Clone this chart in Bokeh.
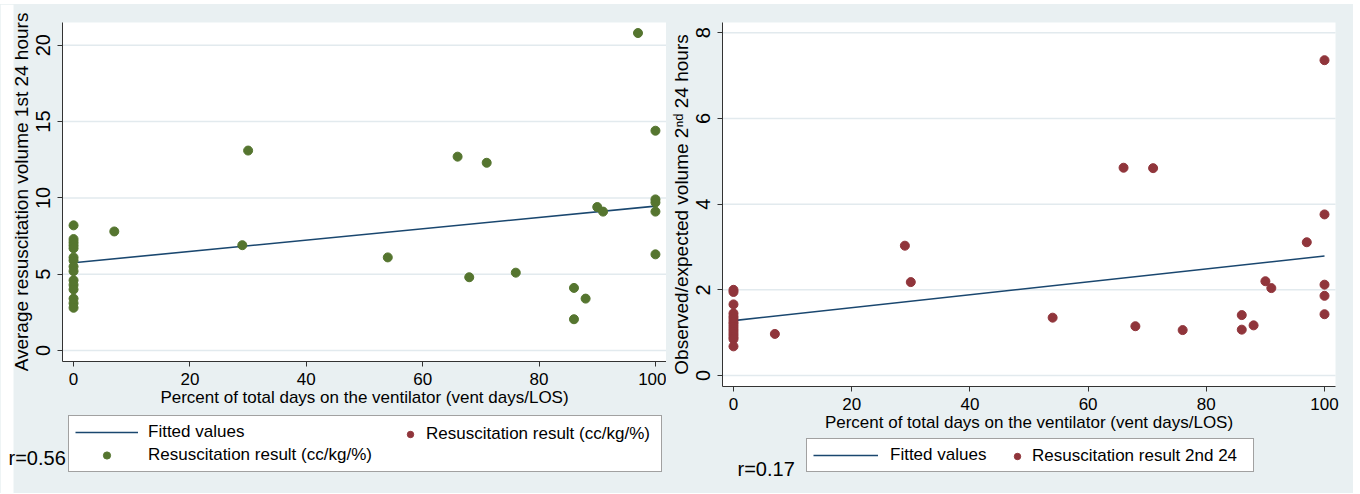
import math
from bokeh.plotting import figure
from bokeh.models import (Legend, LegendItem, Label, Range1d, FixedTicker, Spacer,
                          LinearAxis, BoxAnnotation)
from bokeh.layouts import row, column
from bokeh.embed import file_html
from bokeh.resources import INLINE

# ---------------- data ----------------
# Left panel: percent of days on ventilator vs. average resuscitation volume 1st 24 h
left_x = [0, 0, 0, 0, 0, 0, 0, 0, 0, 0, 0, 0, 0, 0, 0,
          7, 29, 30, 54, 66, 68, 71, 76, 86, 86, 88, 90, 91, 97,
          100, 100, 100, 100, 100]
left_y = [8.2, 7.3, 7.1, 6.9, 6.7, 6.1, 5.9, 5.5, 5.2, 4.6, 4.3, 4.0, 3.4, 3.1, 2.8,
          7.8, 6.9, 13.1, 6.1, 12.7, 4.8, 12.3, 5.1, 4.1, 2.05, 3.4, 9.4, 9.1, 20.8,
          14.4, 9.9, 9.7, 9.1, 6.3]
left_fit_x = [0, 100]
left_fit_y = [5.75, 9.46]

# Right panel: percent of days on ventilator vs. observed/expected volume 2nd 24 h
right_x = [0, 0, 0, 0, 0, 0, 0, 0, 0, 0, 0, 0, 0, 0, 0,
           7, 29, 30, 54, 66, 68, 71, 76, 86, 86, 88, 90, 91, 97,
           100, 100, 100, 100, 100]
right_y = [2.0, 1.95, 1.66, 1.45, 1.38, 1.32, 1.25, 1.2, 1.14, 1.08, 1.02, 0.96, 0.9, 0.85, 0.68,
           0.97, 3.03, 2.18, 1.35, 4.85, 1.15, 4.84, 1.06, 1.41, 1.07, 1.17, 2.2, 2.04, 3.11,
           7.36, 3.76, 2.12, 1.86, 1.43]
right_fit_x = [0, 100]
right_fit_y = [1.28, 2.79]

x_ticks = [0, 20, 40, 60, 80, 100]
left_y_ticks = [0, 5, 10, 15, 20]
right_y_ticks = [0, 2, 4, 6, 8]

x_title = "Percent of total days on the ventilator (vent days/LOS)"
left_y_title = "Average resuscitation volume 1st 24 hours"
right_y_title = "Observed/expected volume 2\u207f\u1d48 24 hours"
label_fit = "Fitted values"
label_res1 = "Resuscitation result (cc/kg/%)"
label_res2 = "Resuscitation result 2nd 24"
r_left = "r=0.56"
r_right = "r=0.17"

# ---------------- style ----------------
BG = "#e9f0f2"
GRID = "#e2eaee"
NAVY = "#1a476f"
GREEN = "#55752f"
MAROON = "#90353b"
AXIS = "#333333"
FONT = "Liberation Sans"


def panel(width, height, box_px, xlim, ylim, yticks, ytitle):
    """box_px = (left, right, top, bottom) of the white plot region in canvas pixels."""
    bl, br, bt, bb = box_px
    sx = (br - bl) / (xlim[1] - xlim[0])
    sy = (bb - bt) / (ylim[1] - ylim[0])
    xr = Range1d(xlim[0] - bl / sx, xlim[1] + (width - br) / sx)
    yr = Range1d(ylim[0] - (height - bb) / sy, ylim[1] + bt / sy)
    p = figure(width=width, height=height, output_backend="svg", toolbar_location=None,
               x_range=xr, y_range=yr, x_axis_type=None, y_axis_type=None,
               min_border=0, min_border_left=0, min_border_right=0,
               min_border_top=0, min_border_bottom=0)
    p.background_fill_color = BG
    p.border_fill_color = BG
    p.outline_line_color = None
    p.grid.visible = False
    # white plot region
    p.add_layout(BoxAnnotation(left=xlim[0], right=xlim[1], bottom=ylim[0], top=ylim[1],
                               fill_color="white", fill_alpha=1.0, line_color=None,
                               level="underlay"))
    # horizontal grid lines at the y ticks, limited to the plot region
    p.segment(x0=[xlim[0] for _ in yticks], x1=[xlim[1] for _ in yticks],
              y0=yticks, y1=yticks, line_color=GRID, line_width=1.5)

    xa = LinearAxis(fixed_location=ylim[0], bounds=tuple(xlim),
                    ticker=FixedTicker(ticks=x_ticks), axis_label=x_title)
    ya = LinearAxis(fixed_location=xlim[0], bounds=tuple(ylim),
                    ticker=FixedTicker(ticks=yticks), axis_label=ytitle)
    for ax in (xa, ya):
        ax.axis_line_color = AXIS
        ax.major_tick_line_color = AXIS
        ax.minor_tick_line_color = None
        ax.major_tick_out = 5
        ax.major_tick_in = 0
        ax.major_label_text_font = FONT
        ax.major_label_text_color = "black"
        ax.axis_label_text_font = FONT
        ax.axis_label_text_font_style = "normal"
        ax.axis_label_text_color = "black"
    xa.major_label_text_font_size = "17px"
    xa.axis_label_text_font_size = "17px"
    xa.major_label_standoff = 6
    xa.axis_label_standoff = 0
    ya.major_label_orientation = "vertical"
    ya.major_label_text_font_size = "20px"
    ya.axis_label_text_font_size = "19px"
    ya.major_label_standoff = 7
    ya.axis_label_standoff = 2
    p.add_layout(xa, "below")
    p.add_layout(ya, "left")
    return p


def make_legend(items, loc, box, glyph_w, label_w, standoff, orient="vertical"):
    kw = dict(items=items, location=loc, orientation=orient,
              glyph_width=glyph_w, glyph_height=18, label_height=18,
              label_standoff=standoff, margin=0,
              label_text_font=FONT, label_text_font_size="17px", label_text_color="black")
    if box:
        kw.update(padding=6, spacing=3, label_width=label_w,
                  border_line_color="#444444", border_line_width=1,
                  background_fill_color="white", background_fill_alpha=1.0)
    else:
        kw.update(padding=0, spacing=0, border_line_color=None,
                  background_fill_alpha=0.0)
    return Legend(**kw)


# ---------------- left panel ----------------
p1 = panel(666, 489, (62, 666, 18, 357), (-1.9, 101.9), (-0.72, 21.49),
           left_y_ticks, left_y_title)
# white page margin at the far left of the picture
p1.add_layout(BoxAnnotation(left=0, right=13, bottom=0, top=489,
                            left_units="screen", right_units="screen",
                            bottom_units="screen", top_units="screen",
                            fill_color="white", fill_alpha=1.0, line_color=None,
                            level="underlay"))
fit1 = p1.line(left_fit_x, left_fit_y, line_color=NAVY, line_width=1.6)
pts1 = p1.scatter(left_x, left_y, size=9, fill_color=GREEN, line_color=GREEN)
# hidden copy of the second-24-hours series, used only for the legend entry
ghost1 = p1.scatter(right_x, right_y, size=9, fill_color=MAROON, line_color=MAROON,
                    visible=False)

p1.add_layout(make_legend([LegendItem(label=label_fit, renderers=[fit1]),
                           LegendItem(label=label_res1, renderers=[pts1])],
                          (68, 21), True, 63, 507, 10))
p1.add_layout(make_legend([LegendItem(label=label_res1, renderers=[ghost1])],
                          (402, 49), False, 16, 0, 8))
p1.add_layout(Label(x=8, y=36, x_units="screen", y_units="screen", text=r_left,
                    text_font=FONT, text_font_size="20px", text_baseline="middle",
                    text_align="left", text_color="black"))

# ---------------- right panel ----------------
p2 = panel(687, 489, (56, 669, 18, 382), (-1.86, 101.86), (-0.257, 8.24),
           right_y_ticks, right_y_title)
fit2 = p2.line(right_fit_x, right_fit_y, line_color=NAVY, line_width=1.6)
pts2 = p2.scatter(right_x, right_y, size=9, fill_color=MAROON, line_color=MAROON)

p2.add_layout(make_legend([LegendItem(label=label_fit, renderers=[fit2])],
                          (140, 21), True, 65, 357, 12, "horizontal"))
p2.add_layout(make_legend([LegendItem(label=label_res2, renderers=[pts2])],
                          (343, 27), False, 16, 0, 7, "horizontal"))
p2.add_layout(Label(x=71, y=25, x_units="screen", y_units="screen", text=r_right,
                    text_font=FONT, text_font_size="20px", text_baseline="middle",
                    text_align="left", text_color="black"))

layout = column(Spacer(height=4), row(p1, p2, styles={"background-color": BG}))
open("out.html", "w").write(file_html(layout, INLINE))
